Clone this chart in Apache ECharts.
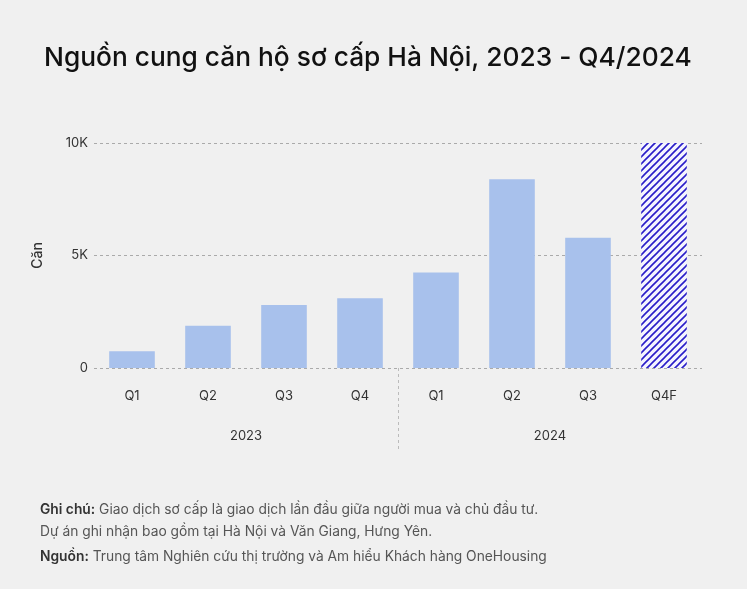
<!DOCTYPE html>
<html>
<head>
<meta charset="utf-8">
<script src="https://cdn.jsdelivr.net/npm/echarts@6/dist/echarts.min.js"></script>
<style>
  html, body { margin: 0; padding: 0; background: #f0f0f0; }
  #container { width: 747px; height: 589px; }
</style>
</head>
<body>
<div id="container"></div>
<script>
var quarters = ['Q1', 'Q2', 'Q3', 'Q4', 'Q1', 'Q2', 'Q3', 'Q4F'];
var years = ['2023', '2024'];
var supply = [750, 1880, 2800, 3100, 4250, 8390, 5790, 10000];
var forecastIndex = 7;
var yearSplit = 4; // first quarter of 2024
var yTicks = [0, 5000, 10000];

var font = 'Inter, "Noto Sans", sans-serif';

// hatch pattern for the forecast bar
function hatch() {
  var c = document.createElement('canvas');
  var s = 7;
  c.width = s; c.height = s;
  var ctx = c.getContext('2d');
  ctx.fillStyle = '#f5f5ff';
  ctx.fillRect(0, 0, s, s);
  ctx.strokeStyle = '#2a1ec8';
  ctx.lineWidth = 1.6;
  ctx.beginPath();
  ctx.moveTo(-1, s + 1); ctx.lineTo(s + 1, -1);
  ctx.moveTo(-1, 1); ctx.lineTo(1, -1);
  ctx.moveTo(s - 1, s + 1); ctx.lineTo(s + 1, s - 1);
  ctx.stroke();
  return c;
}

var barData = [];
for (var i = 0; i < supply.length; i++) {
  if (i == forecastIndex)
    barData.push({ value: supply[i], itemStyle: { color: { image: hatch(), repeat: 'repeat' } } });
  else
    barData.push(supply[i]);
}

var notes = [{
  type: 'text',
  left: 40,
  top: 499,
  style: {
    text: '{b|Ghi chú:} Giao dịch sơ cấp là giao dịch lần đầu giữa người mua và chủ đầu tư.\nDự án ghi nhận bao gồm tại Hà Nội và Văn Giang, Hưng Yên.',
    fontFamily: font,
    fontSize: 13.8,
    lineHeight: 22,
    fill: '#555555',
    rich: {
      b: { fontFamily: font, fontSize: 13.8, fontWeight: 600, fill: '#333333', lineHeight: 22 }
    }
  }
}, {
  type: 'text',
  left: 40,
  top: 547,
  style: {
    text: '{b|Nguồn:} Trung tâm Nghiên cứu thị trường và Am hiểu Khách hàng OneHousing',
    fontFamily: font,
    fontSize: 13.8,
    lineHeight: 20,
    fill: '#555555',
    rich: {
      b: { fontFamily: font, fontSize: 13.8, fontWeight: 600, fill: '#333333', lineHeight: 20 }
    }
  }
}];

var myChart = echarts.init(document.getElementById('container'));
var option = {
  backgroundColor: '#f0f0f0',
  textStyle: { fontFamily: font },
  title: {
    text: 'Nguồn cung căn hộ sơ cấp Hà Nội, 2023 - Q4/2024',
    left: 39,
    top: 40,
    textStyle: { fontFamily: font, fontSize: 26.3, fontWeight: 500, color: '#111111' }
  },
  grid: { left: 94, right: 45, top: 143, bottom: 221, containLabel: false },
  xAxis: [{
    type: 'category',
    data: quarters,
    axisLine: { show: false },
    axisTick: { show: false },
    axisLabel: { color: '#333333', fontSize: 13, margin: 22 }
  }, {
    type: 'category',
    data: years,
    position: 'bottom',
    axisLine: { show: false },
    axisTick: { show: false },
    axisLabel: { color: '#333333', fontSize: 13, margin: 62 }
  }],
  yAxis: {
    type: 'value',
    min: yTicks[0],
    max: yTicks[yTicks.length - 1],
    interval: yTicks[1] - yTicks[0],
    name: 'Căn',
    nameLocation: 'middle',
    nameGap: 49,
    nameTextStyle: { color: '#333333', fontSize: 14, fontWeight: 500 },
    axisLabel: {
      color: '#333333',
      fontSize: 13,
      margin: 6,
      formatter: function (v) { return v === 0 ? '0' : (v / 1000) + 'K'; }
    },
    splitLine: { lineStyle: { color: '#aaaaaa', type: [3, 3] } }
  },
  series: [{
    type: 'bar',
    data: barData,
    barWidth: '60%',
    itemStyle: { color: '#a8c1ec' },
    silent: true
  }],
  graphic: notes
};
myChart.setOption(option);

// year separator, placed from the axis scales
var xa = myChart.convertToPixel({ xAxisIndex: 0 }, yearSplit - 1);
var xb = myChart.convertToPixel({ xAxisIndex: 0 }, yearSplit);
var y0 = myChart.convertToPixel({ yAxisIndex: 0 }, 0);
var sepX = Math.round((xa + xb) / 2) + 0.5;
myChart.setOption({
  graphic: notes.concat([{
    type: 'line',
    silent: true,
    shape: { x1: sepX, y1: y0, x2: sepX, y2: y0 + 82 },
    style: { stroke: '#bbbbbb', lineWidth: 1, lineDash: [3, 3] }
  }])
});
</script>
</body>
</html>
